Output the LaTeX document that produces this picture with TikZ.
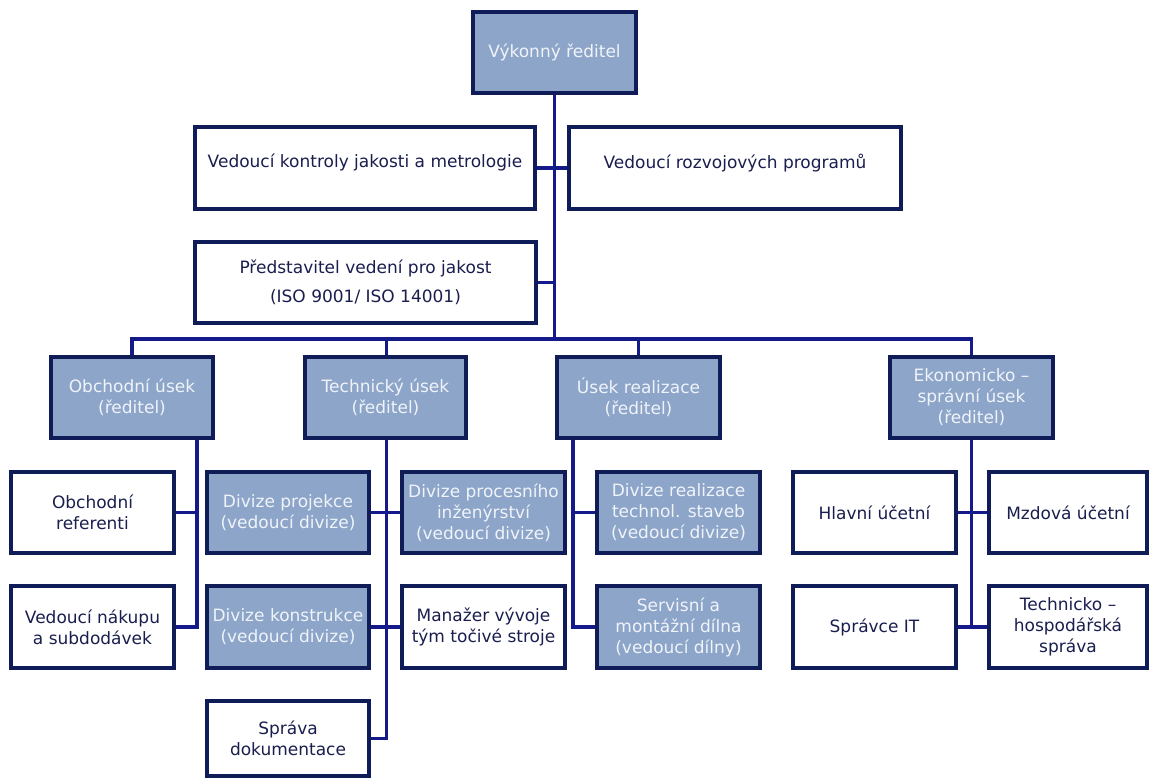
\documentclass[tikz,border=0pt]{standalone}
\usepackage{fontspec}
\setmainfont{DejaVu Sans}
\usetikzlibrary{backgrounds}
\definecolor{boxline}{RGB}{16,28,88}
\definecolor{conn}{RGB}{20,26,138}
\definecolor{boxfill}{RGB}{140,165,200}
\definecolor{lighttext}{RGB}{240,244,250}
\definecolor{darktext}{RGB}{26,30,78}
\tikzset{
  orgbox/.style={draw=boxline, line width=3.2pt, rectangle, align=center, inner sep=2pt,
    font=\fontsize{17}{21}\selectfont},
  whitebox/.style={orgbox, fill=white, text=darktext},
  bluebox/.style={orgbox, fill=boxfill, text=lighttext},
  link/.style={draw=conn, line width=3.4pt, line join=miter}
}
\begin{document}
\begin{tikzpicture}[x=1pt,y=-1pt]
\useasboundingbox (0,0) rectangle (1150,780);

% helper coordinates
\coordinate (bus) at (554.5,339);
\coordinate (ov) at (197,438);
\coordinate (tv) at (386.5,438);
\coordinate (rv) at (573,438);
\coordinate (ev) at (971.5,438);

% top level
\node[bluebox, minimum width=163pt, minimum height=81pt] (ceo) at (554.5,52.5) {Výkonný ředitel};
\node[whitebox, minimum width=340pt, minimum height=82pt, text depth=14pt] (qc) at (365,168) {Vedoucí kontroly jakosti a metrologie};
\node[whitebox, minimum width=332pt, minimum height=82pt, text depth=14pt] (dev) at (735,168) {Vedoucí rozvojových programů};
\node[whitebox, minimum width=341pt, minimum height=81pt, font=\fontsize{17}{29}\selectfont] (qm) at (365.5,282.5) {Představitel vedení pro jakost\\(ISO 9001/ ISO 14001)};

% divisions
\node[bluebox, minimum width=162pt, minimum height=81pt] (obch) at (132,397.5) {Obchodní úsek\\(ředitel)};
\node[bluebox, minimum width=161pt, minimum height=81pt] (tech) at (385.5,397.5) {Technický úsek\\(ředitel)};
\node[bluebox, minimum width=163pt, minimum height=81pt] (real) at (638.5,397.5) {Úsek realizace\\(ředitel)};
\node[bluebox, minimum width=163pt, minimum height=81pt] (eko) at (971.5,397.5) {Ekonomicko –\\správní úsek\\(ředitel)};

% lower rows
\node[whitebox, minimum width=163pt, minimum height=81pt] (obref) at (92.5,512.5) {Obchodní\\referenti};
\node[whitebox, minimum width=163pt, minimum height=82pt] (nakup) at (92.5,627) {Vedoucí nákupu\\a subdodávek};

\node[bluebox, minimum width=162pt, minimum height=81pt] (proj) at (288,512.5) {Divize projekce\\(vedoucí divize)};
\node[bluebox, minimum width=162pt, minimum height=82pt] (konst) at (288,627) {Divize konstrukce\\(vedoucí divize)};
\node[whitebox, minimum width=162pt, minimum height=75pt] (sprava) at (288,738.5) {Správa\\dokumentace};

\node[bluebox, minimum width=163pt, minimum height=81pt] (proc) at (483.5,512.5) {Divize procesního\\inženýrství\\(vedoucí divize)};
\node[whitebox, minimum width=163pt, minimum height=82pt] (manaz) at (483.5,627) {Manažer vývoje\\tým točivé stroje};

\node[bluebox, minimum width=163pt, minimum height=81pt] (divreal) at (678.5,512.5) {Divize realizace\\technol. staveb\\(vedoucí divize)};
\node[bluebox, minimum width=163pt, minimum height=82pt] (servis) at (678.5,627) {Servisní a\\montážní dílna\\(vedoucí dílny)};

\node[whitebox, minimum width=163pt, minimum height=81pt] (hlavni) at (874.5,512.5) {Hlavní účetní};
\node[whitebox, minimum width=158pt, minimum height=81pt] (mzdova) at (1068,512.5) {Mzdová účetní};
\node[whitebox, minimum width=163pt, minimum height=82pt] (spravceit) at (874.5,627) {Správce IT};
\node[whitebox, minimum width=158pt, minimum height=82pt] (technicko) at (1068,627) {Technicko –\\hospodářská\\správa};

% connectors behind the boxes
\begin{scope}[on background layer]
\draw[link] (ceo) -- (bus);
\draw[link] (qc) -- (dev);
\draw[link] (qm) -- (qm -| bus);
\draw[link] (obch) -- (obch |- bus) -- (eko |- bus) -- (eko);
\draw[link] (tv |- bus) -- (tv |- tech.north);
\draw[link] (real |- bus) -- (real);

\draw[link] (obref) -- (obref -| ov);
\draw[link] (ov |- obch) -- (ov |- nakup) -- (nakup);

\draw[link] (proj) -- (proc);
\draw[link] (konst) -- (manaz);
\draw[link] (tv |- tech) -- (tv |- sprava) -- (sprava);

\draw[link] (divreal) -- (divreal -| rv);
\draw[link] (rv |- real) -- (rv |- servis) -- (servis);

\draw[link] (hlavni) -- (mzdova);
\draw[link] (eko) -- (eko |- spravceit);
\draw[link] (spravceit) -- (technicko);
\end{scope}
\end{tikzpicture}
\end{document}
